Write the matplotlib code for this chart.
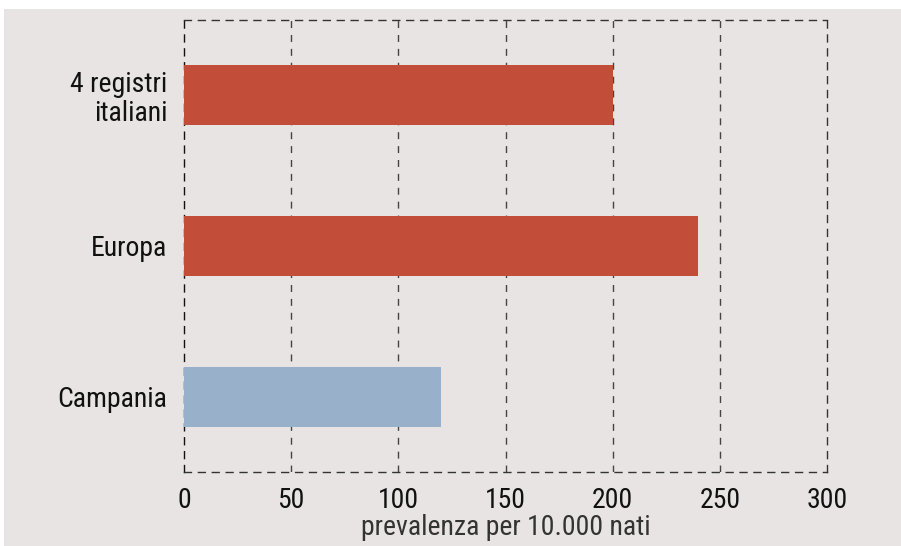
import matplotlib
matplotlib.use('Agg')
import matplotlib.pyplot as plt
from matplotlib.patches import Rectangle

categories = ['4 registri\nitaliani', 'Europa', 'Campania']
values = [200, 240, 120]
bar_colors = ['#c24e39', '#c24e39', '#98b0c9']
xticks = [0, 50, 100, 150, 200, 250, 300]

plt.rcParams['font.family'] = ['Roboto Condensed', 'DejaVu Sans']

bg = '#e9e4e4'
fig = plt.figure(figsize=(9.01, 5.46), dpi=100, facecolor='white')
fig.patches.append(Rectangle((4 / 901, 0), 1, 1 - 9 / 546, transform=fig.transFigure,
                             facecolor=bg, edgecolor='none', zorder=-10))
ax = fig.add_axes([184 / 901, 74 / 546, 643 / 901, 452 / 546])
ax.set_facecolor(bg)

ypos = list(range(len(categories)))
ax.barh(ypos, values, height=0.4, color=bar_colors, zorder=3)
ax.set_ylim(2.5, -0.5)
ax.set_xlim(0, 300)
ax.set_yticks(ypos)
ax.set_yticklabels(categories, fontsize=20, linespacing=1.1, color='#111111')
ax.set_xticks(xticks)
ax.set_xticklabels([str(t) for t in xticks], fontsize=20, color='#111111')
ax.tick_params(length=0)
ax.tick_params(axis='x', pad=11)
ax.tick_params(axis='y', pad=12)

for x in xticks[1:-1]:
    ax.axvline(x, color='#444444', lw=1, ls=(0, (5, 5)), zorder=1)
for s in ax.spines.values():
    s.set_linestyle((0, (5, 5)))
    s.set_color('#333333')
    s.set_linewidth(1)
ax.spines['left'].set_color('#111111')

ax.set_xlabel('prevalenza per 10.000 nati', fontsize=20, color='#333333', labelpad=0)

fig.savefig('out.png', dpi=100, facecolor=fig.get_facecolor())
